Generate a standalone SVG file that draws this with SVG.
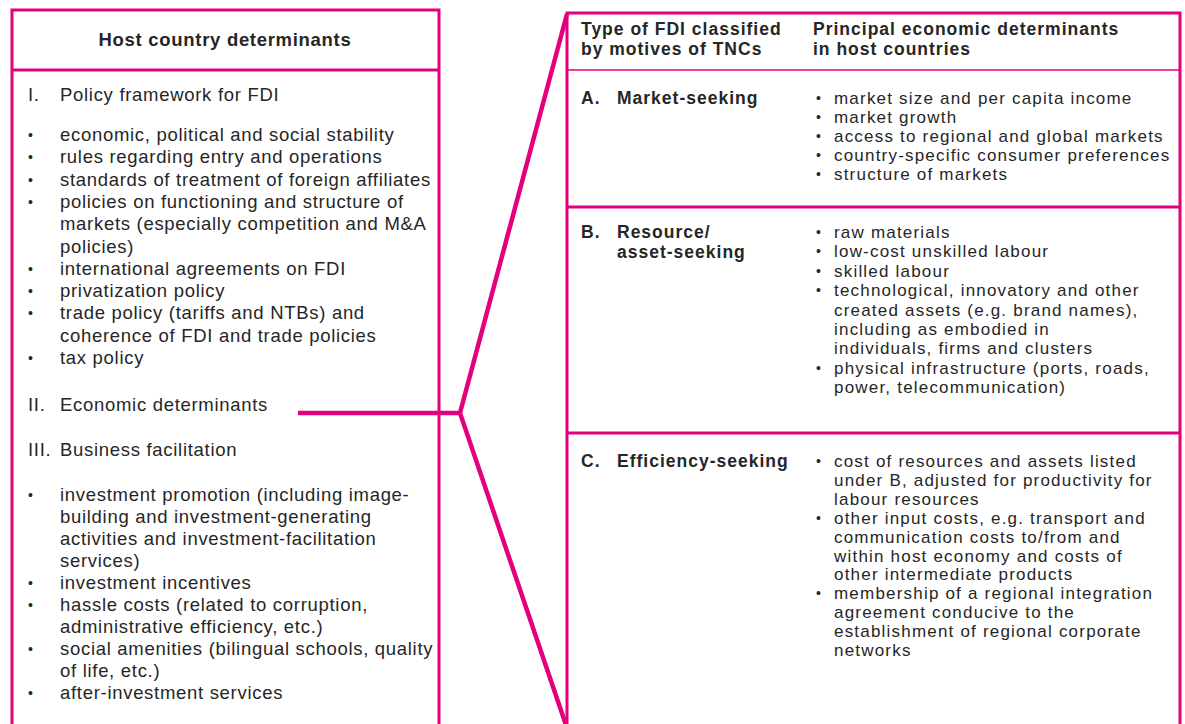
<svg xmlns="http://www.w3.org/2000/svg" width="1185" height="724" viewBox="0 0 1185 724">
  <defs>
    <style>
      .box { fill: none; stroke: #E4007C; stroke-width: 3; }
      .div { stroke: #E4007C; stroke-width: 3; }
      .thin { stroke: #E4007C; stroke-width: 1.5; }
      .conn { fill: none; stroke: #E4007C; stroke-width: 4.5; stroke-linejoin: miter; }
      text { font-family: "Liberation Sans", Arial, sans-serif; fill: #262626; }
      .lh { font-size: 18.5px; font-weight: bold; letter-spacing: 0.7px; }
      .lt { font-size: 18.5px; letter-spacing: 0.7px; }
      .rh { font-size: 17.5px; font-weight: bold; letter-spacing: 1px; }
      .rt { font-size: 17px; letter-spacing: 1.2px; }
      .bl { font-size: 14px; }
    </style>
  </defs>
  <rect width="1185" height="724" fill="#fff"/>

  <g id="host-country-determinants">
    <rect class="box" x="12" y="10" width="427" height="730"/>
    <line class="div" x1="12" y1="70" x2="439" y2="70"/>
    <text class="lh" x="225" y="46" text-anchor="middle">Host country determinants</text>
    <text class="lt" x="28" y="101">I.</text>
    <text class="lt" x="60" y="101">Policy framework for FDI</text>
    <text class="bl" x="28" y="140">•</text>
    <text class="bl" x="28" y="162">•</text>
    <text class="bl" x="28" y="185">•</text>
    <text class="bl" x="28" y="207">•</text>
    <text class="bl" x="28" y="274">•</text>
    <text class="bl" x="28" y="296">•</text>
    <text class="bl" x="28" y="318">•</text>
    <text class="bl" x="28" y="363">•</text>
    <text class="bl" x="28" y="500">•</text>
    <text class="bl" x="28" y="588">•</text>
    <text class="bl" x="28" y="610">•</text>
    <text class="bl" x="28" y="654">•</text>
    <text class="bl" x="28" y="698">•</text>
    <text class="lt" x="60" y="141">economic, political and social stability</text>
    <text class="lt" x="60" y="163.3">rules regarding entry and operations</text>
    <text class="lt" x="60" y="185.6">standards of treatment of foreign affiliates</text>
    <text class="lt" x="60" y="207.9">policies on functioning and structure of</text>
    <text class="lt" x="60" y="230.2">markets (especially competition and M&amp;A</text>
    <text class="lt" x="60" y="252.5">policies)</text>
    <text class="lt" x="60" y="274.8">international agreements on FDI</text>
    <text class="lt" x="60" y="297.1">privatization policy</text>
    <text class="lt" x="60" y="319.4">trade policy (tariffs and NTBs) and</text>
    <text class="lt" x="60" y="341.7">coherence of FDI and trade policies</text>
    <text class="lt" x="60" y="364">tax policy</text>
    <text class="lt" x="28" y="411">II.</text>
    <text class="lt" x="60" y="411">Economic determinants</text>
    <text class="lt" x="28" y="456">III.</text>
    <text class="lt" x="60" y="456">Business facilitation</text>
    <text class="lt" x="60" y="501">investment promotion (including image-</text>
    <text class="lt" x="60" y="523">building and investment-generating</text>
    <text class="lt" x="60" y="545">activities and investment-facilitation</text>
    <text class="lt" x="60" y="567">services)</text>
    <text class="lt" x="60" y="589">investment incentives</text>
    <text class="lt" x="60" y="611">hassle costs (related to corruption,</text>
    <text class="lt" x="60" y="633">administrative efficiency, etc.)</text>
    <text class="lt" x="60" y="655">social amenities (bilingual schools, quality</text>
    <text class="lt" x="60" y="677">of life, etc.)</text>
    <text class="lt" x="60" y="699">after-investment services</text>
  </g>

  <g id="fdi-types">
    <rect class="box" x="567" y="13" width="613" height="730"/>
    <line class="thin" x1="567" y1="70" x2="1180" y2="70"/>
    <line class="div" x1="567" y1="207" x2="1180" y2="207"/>
    <line class="div" x1="567" y1="433" x2="1180" y2="433"/>

    <g id="header">
      <text class="rh" x="581" y="35">Type of FDI classified</text>
      <text class="rh" x="581" y="55">by motives of TNCs</text>
      <text class="rh" x="813" y="35">Principal economic determinants</text>
      <text class="rh" x="813" y="55">in host countries</text>
    </g>

    <g id="market-seeking">
      <text class="rh" x="581" y="104">A.</text>
      <text class="rh" x="617" y="104">Market-seeking</text>
      <text class="bl" x="816" y="103">•</text>
      <text class="bl" x="816" y="122">•</text>
      <text class="bl" x="816" y="141">•</text>
      <text class="bl" x="816" y="160">•</text>
      <text class="bl" x="816" y="179">•</text>
      <text class="rt" x="834" y="104">market size and per capita income</text>
      <text class="rt" x="834" y="123">market growth</text>
      <text class="rt" x="834" y="142">access to regional and global markets</text>
      <text class="rt" x="834" y="161">country-specific consumer preferences</text>
      <text class="rt" x="834" y="180">structure of markets</text>
    </g>

    <g id="resource-seeking">
      <text class="rh" x="581" y="238">B.</text>
      <text class="rh" x="617" y="238">Resource/</text>
      <text class="rh" x="617" y="258">asset-seeking</text>
      <text class="bl" x="816" y="237">•</text>
      <text class="bl" x="816" y="256">•</text>
      <text class="bl" x="816" y="276">•</text>
      <text class="bl" x="816" y="295">•</text>
      <text class="bl" x="816" y="373">•</text>
      <text class="rt" x="834" y="238">raw materials</text>
      <text class="rt" x="834" y="257.4">low-cost unskilled labour</text>
      <text class="rt" x="834" y="276.8">skilled labour</text>
      <text class="rt" x="834" y="296.2">technological, innovatory and other</text>
      <text class="rt" x="834" y="315.6">created assets (e.g. brand names),</text>
      <text class="rt" x="834" y="335">including as embodied in</text>
      <text class="rt" x="834" y="354.4">individuals, firms and clusters</text>
      <text class="rt" x="834" y="373.8">physical infrastructure (ports, roads,</text>
      <text class="rt" x="834" y="393.2">power, telecommunication)</text>
    </g>

    <g id="efficiency-seeking">
      <text class="rh" x="581" y="467">C.</text>
      <text class="rh" x="617" y="467">Efficiency-seeking</text>
      <text class="bl" x="816" y="466">•</text>
      <text class="bl" x="816" y="523">•</text>
      <text class="bl" x="816" y="598">•</text>
      <text class="rt" x="834" y="467">cost of resources and assets listed</text>
      <text class="rt" x="834" y="485.9">under B, adjusted for productivity for</text>
      <text class="rt" x="834" y="504.8">labour resources</text>
      <text class="rt" x="834" y="523.7">other input costs, e.g. transport and</text>
      <text class="rt" x="834" y="542.6">communication costs to/from and</text>
      <text class="rt" x="834" y="561.5">within host economy and costs of</text>
      <text class="rt" x="834" y="580.4">other intermediate products</text>
      <text class="rt" x="834" y="599.3">membership of a regional integration</text>
      <text class="rt" x="834" y="618.2">agreement conducive to the</text>
      <text class="rt" x="834" y="637.1">establishment of regional corporate</text>
      <text class="rt" x="834" y="656">networks</text>
    </g>
  </g>

  <g id="connectors">
    <line class="conn" x1="298" y1="413" x2="460" y2="413"/>
    <polyline class="conn" points="567,14 460,413 567,728"/>
  </g>
</svg>
